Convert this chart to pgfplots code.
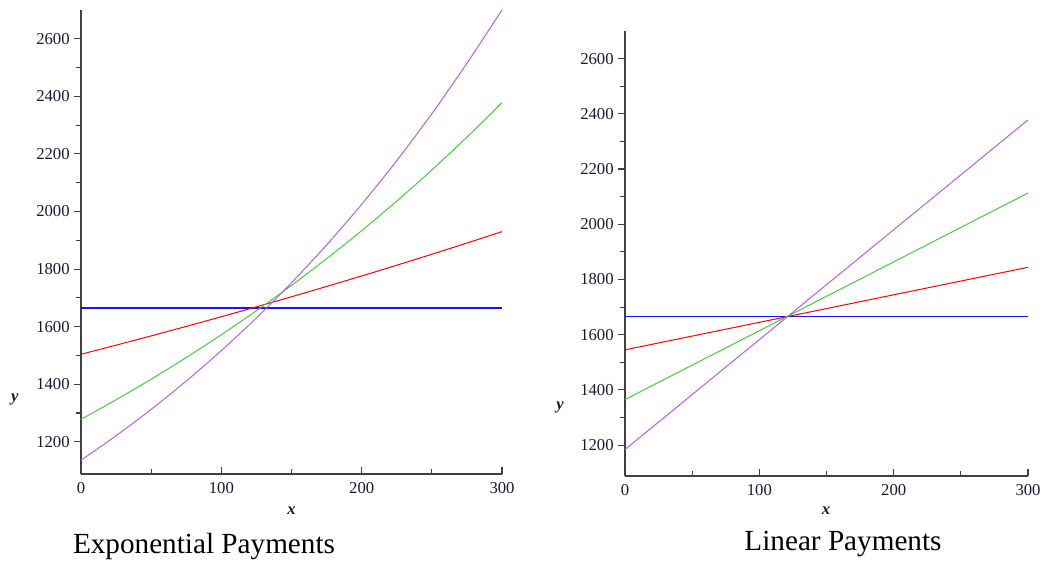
\documentclass[border=0pt]{standalone}
\usepackage{fontspec}
\setmainfont{Liberation Serif}
\usepackage{pgfplots}
\pgfplotsset{compat=1.18}
\definecolor{cblue}{RGB}{20,20,255}
\definecolor{cred}{RGB}{255,0,0}
\definecolor{cgreen}{RGB}{70,205,60}
\definecolor{cpurple}{RGB}{185,95,220}
\definecolor{ticktext}{RGB}{25,25,55}
\pgfplotsset{
  maplestyle/.style={
    scale only axis,
    axis lines=left,
    axis line style={-, draw=black!75, line width=0.9pt},
    xmin=0, xmax=300, ymin=1088, ymax=2700,
    xtick={0,100,200,300},
    ytick={1200,1400,...,2600},
    minor x tick num=1,
    minor y tick num=1,
    x tick style={draw=black!75, line width=0.8pt},
    y tick style={draw=black!75, line width=0.8pt},
    xtick align=inside,
    ytick align=outside,
    major tick length=5pt,
    minor tick length=3.5pt,
    tick label style={font=\fontsize{12.5}{14}\selectfont, text=ticktext},
    xticklabel style={yshift=-3pt},
    /pgf/number format/assume math mode=true,
    /pgf/number format/1000 sep={},
    clip=false,
    every axis plot/.append style={line width=0.75pt},
  }
}
\begin{document}
\begin{tikzpicture}
\path[use as bounding box] (0,0) rectangle (781.5pt,420.75pt);
% Left: exponential payments
\begin{axis}[maplestyle,
  at={(60.75pt,65.25pt)}, anchor=south west,
  width=315.75pt, height=348pt]
\addplot[draw=cblue, line width=0.9pt] coordinates {(0,1665) (300,1665)};
\addplot[draw=cred, smooth] coordinates {
(0,1504) (25,1535.6) (50,1567.8) (75,1600.8) (100,1634.4) (125,1668.7) (150,1703.7)
(175,1739.5) (200,1776.0) (225,1813.3) (250,1851.4) (275,1890.3) (300,1930)};
\addplot[draw=cgreen, smooth] coordinates {
(0,1278) (25,1345.9) (50,1417.4) (75,1492.7) (100,1571.9) (125,1655.4) (150,1743.3)
(175,1835.9) (200,1933.5) (225,2036.1) (250,2144.3) (275,2258.2) (300,2378.1)};
\addplot[draw=cpurple, smooth] coordinates {
(0,1136) (25,1221.1) (50,1312.6) (75,1411.0) (100,1516.7) (125,1630.3) (150,1752.5)
(175,1883.8) (200,2024.9) (225,2176.6) (250,2339.7) (275,2515.0) (300,2700)};
\node[font=\fontsize{12.5}{14}\selectfont\itshape\bfseries, text=ticktext] at (axis description cs:0.5,-0.08) {x};
\node[font=\fontsize{12.5}{14}\selectfont\itshape\bfseries, text=ticktext] at (axis description cs:-0.157,0.16) {y};
\end{axis}
% Right: linear payments
\begin{axis}[maplestyle,
  at={(468.75pt,63.75pt)}, anchor=south west,
  width=302.25pt, height=333.75pt]
\addplot[draw=cblue, line width=0.9pt] coordinates {(0,1666) (300,1666)};
\addplot[draw=cred] coordinates {(0,1545) (300,1844)};
\addplot[draw=cgreen] coordinates {(0,1365) (300,2113)};
\addplot[draw=cpurple] coordinates {(0,1184) (300,2378)};
\node[font=\fontsize{12.5}{14}\selectfont\itshape\bfseries, text=ticktext] at (axis description cs:0.499,-0.079) {x};
\node[font=\fontsize{12.5}{14}\selectfont\itshape\bfseries, text=ticktext] at (axis description cs:-0.161,0.155) {y};
\end{axis}
\node[font=\fontsize{21.9}{26}\selectfont] at (153pt,11pt) {Exponential Payments};
\node[font=\fontsize{21.9}{26}\selectfont] at (632.25pt,12.5pt) {Linear Payments};
\end{tikzpicture}
\end{document}
